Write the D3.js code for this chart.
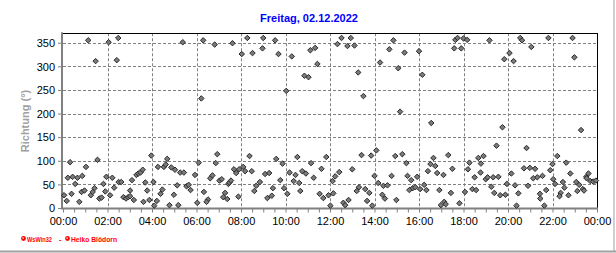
<!DOCTYPE html>
<html><head><meta charset="utf-8">
<script src="https://cdn.jsdelivr.net/npm/d3@7"></script>
<style>body{margin:0;background:#fff}svg{display:block}</style>
</head><body><svg id="c" width="616" height="253"></svg>
<script>
const title = "Freitag, 02.12.2022";
const yLabel = "Richtung (°)";
const footer = ["WsWin32", "-", "Heiko Blödorn"];
const yTicks = [0, 50, 100, 150, 200, 250, 300, 350];
const xTickMinutes = [0, 120, 240, 360, 480, 600, 720, 840, 960, 1080, 1200, 1320, 1440];
const xTickLabels = ["00:00","02:00","04:00","06:00","08:00","10:00","12:00","14:00","16:00","18:00","20:00","22:00","00:00"];

// time of day in minutes
const minutes = [
  68,88,123,149,145,323,19,93,62,238,281,256,272,277,292,302,316,326,356,366,13,26,39,52,33,117,133,150,157,186,198,203,209,215,222,244,109,3,10,23,44,50,58,75,80,85,98,104,114,127,138,163,170,176,181,191,181,217,227,233,246,253,263,268,287,299,308,311,333,339,344,362,
  378,409,457,497,482,511,538,540,572,581,617,667,680,686,651,662,373,602,416,412,503,575,592,632,669,710,397,403,422,428,461,467,475,486,491,509,545,556,611,627,645,655,697,676,622,637,586,446,449,453,531,521,516,566,596,380,391,387,432,437,443,473,551,563,605,640,692,702,716,729,721,727,
  740,751,767,776,786,796,810,855,880,891,904,921,909,960,969,993,1055,1058,1064,1074,1080,1090,805,831,845,896,915,926,999,991,1004,1039,1096,745,734,780,840,886,929,939,955,984,1009,1026,1050,1092,850,864,875,934,943,950,963,974,980,1015,798,815,792,826,861,868,899,1046,1084,756,761,770,820,834,1019,1028,1032,1069,
  1150,1233,1238,1263,1204,1190,1215,1309,1374,1379,1185,1397,1169,1250,1333,1120,1134,1127,1126,1357,1320,1243,1259,1273,1314,1209,1293,1279,1268,1368,1110,1140,1145,1160,1174,1322,1417,1411,1412,1422,1430,1437,1384,1392,1348,1327,1254,1219,1197,1155,1104,1114,1163,1179,1193,1228,1286,1303,1287,1352,1342,1339,1363,1387,1402,1405,1223,1298
];
// wind direction in degrees
const direction = [
  355,311,351,360,313,351,97,102,87,111,104,87,87,92,86,81,75,75,70,96,64,66,64,68,51,66,64,55,55,59,70,73,75,81,54,55,51,27,15,30,13,34,37,27,34,42,20,22,35,27,43,23,20,23,25,17,37,13,37,17,5,15,30,39,6,28,48,6,46,49,38,11,
  355,346,349,360,326,328,338,360,355,326,321,334,339,305,280,277,232,248,114,95,110,104,94,108,95,108,63,69,58,61,82,74,82,87,78,78,72,74,75,70,78,73,83,64,57,53,59,51,54,58,55,47,36,42,42,34,18,13,23,32,19,24,21,26,30,36,30,21,27,31,5,57,
  347,360,343,360,344,287,237,308,336,355,296,329,204,332,282,180,338,356,360,338,359,356,112,111,122,110,114,95,106,93,89,112,96,76,67,82,68,68,68,59,66,78,74,70,83,82,53,47,48,38,42,44,40,49,38,38,44,40,36,32,28,20,17,32,34,11,6,17,15,5,6,13,8,10,
  355,360,355,341,328,315,311,360,360,319,171,165,132,127,110,106,110,94,75,96,93,84,85,83,80,73,68,65,63,73,65,61,65,65,66,61,73,66,63,57,56,58,55,49,55,51,47,48,51,45,40,38,32,27,28,31,30,38,20,43,32,25,27,36,40,37,5,5
];

const svg = d3.select("#c");
const font = "'Liberation Sans', Arial, sans-serif";
const L = 63, R = 597, T = 33.25, B = 208;
const x = d3.scaleLinear().domain([0, 1440]).range([L, R]);
const y = d3.scaleLinear().domain([0, 370]).range([B, T]);

// frame lines of the image
svg.append("line").attr("x1", 0).attr("x2", 616).attr("y1", 251.5).attr("y2", 251.5)
  .attr("stroke", "#a0a0a0").attr("stroke-width", 2);
svg.append("line").attr("x1", 614).attr("x2", 614).attr("y1", 0).attr("y2", 252)
  .attr("stroke", "#a0a0a0").attr("stroke-width", 1);

// title
svg.append("text").attr("x", 309).attr("y", 22).attr("text-anchor", "middle")
  .attr("font-family", font).attr("font-weight", "bold").attr("font-size", 11)
  .attr("fill", "#0000ff").text(title);

// grid
const grid = svg.append("g").attr("stroke", "#808080").attr("stroke-dasharray", "3,2").attr("stroke-width", 1);
grid.selectAll(".h").data(yTicks.filter(d => d > 0)).enter().append("line")
  .attr("x1", L).attr("x2", R).attr("y1", d => Math.round(y(d)) + 0.5).attr("y2", d => Math.round(y(d)) + 0.5);
grid.selectAll(".v").data(xTickMinutes.slice(1, -1)).enter().append("line")
  .attr("y1", T).attr("y2", B).attr("x1", d => Math.round(x(d)) + 0.5).attr("x2", d => Math.round(x(d)) + 0.5);

// top & right borders
svg.append("line").attr("x1", L - 1).attr("x2", R + 1).attr("y1", 33.5).attr("y2", 33.5).attr("stroke", "#000");
svg.append("line").attr("x1", R + 0.5).attr("x2", R + 0.5).attr("y1", 33).attr("y2", B).attr("stroke", "#000");

// axes
const yAxis = d3.axisLeft(y).tickValues(yTicks).tickSize(4).tickPadding(3).tickFormat(d => d);
const gy = svg.append("g").attr("transform", `translate(${L - 1},0)`).call(yAxis);
gy.select(".domain").attr("stroke", "#808080").attr("stroke-width", 2).attr("d", `M0,${T - 1}V${B + 1}`);
gy.selectAll(".tick line").attr("stroke", "#808080");
gy.selectAll(".tick text").attr("font-family", font).attr("font-size", 11).attr("fill", "#000").attr("dy", "0.34em");

const minorTicks = d3.range(0, 1441, 30);
const xAxis = d3.axisBottom(x).tickValues(minorTicks).tickSize(4).tickFormat("");
const gx = svg.append("g").attr("transform", `translate(0,${B + 0.5})`).call(xAxis);
gx.select(".domain").attr("stroke", "#808080").attr("stroke-width", 2).attr("d", `M${L - 2},0H${R + 1}`);
gx.selectAll(".tick line").attr("stroke", "#808080");

const xLab = d3.axisBottom(x).tickValues(xTickMinutes).tickSize(0).tickPadding(0)
  .tickFormat((d, i) => xTickLabels[i]);
const gxl = svg.append("g").attr("transform", `translate(0,217)`).call(xLab);
gxl.select(".domain").remove();
gxl.selectAll(".tick text").attr("font-family", font).attr("font-size", 11).attr("fill", "#000").attr("dy", "0.71em");

// y label
svg.append("text").attr("transform", "translate(29,121) rotate(-90)").attr("text-anchor", "middle")
  .attr("font-family", font).attr("font-weight", "bold").attr("font-size", 11)
  .attr("fill", "#a0a0a0").text(yLabel);

// points
const diamond = { draw(ctx, size) { const r = Math.sqrt(size / 2); ctx.moveTo(0, -r); ctx.lineTo(r, 0); ctx.lineTo(0, r); ctx.lineTo(-r, 0); ctx.closePath(); } };
const sym = d3.symbol().type(diamond).size(15);
svg.append("g").selectAll("path").data(minutes.map((m, i) => [m, direction[i]])).enter().append("path")
  .attr("d", sym).attr("transform", d => `translate(${x(d[0])},${y(d[1])})`)
  .attr("fill", "#7a7a7a").attr("stroke", "#2a2a2a").attr("stroke-width", 1);

// footer
const f = svg.append("g").attr("font-family", font).attr("font-weight", "bold").attr("font-size", 7.5).attr("fill", "#ff0000");
[[23.5, 238.5], [67.5, 238.5]].forEach(c => {
  f.append("circle").attr("cx", c[0]).attr("cy", c[1]).attr("r", 2.4).attr("fill", "#ff0000");
  f.append("circle").attr("cx", c[0] - 0.4).attr("cy", c[1] - 0.4).attr("r", 0.8).attr("fill", "#fff");
});
f.append("text").attr("x", 27).attr("y", 241.5).attr("textLength", 25).attr("lengthAdjust", "spacingAndGlyphs").text(footer[0]);
f.append("text").attr("x", 59).attr("y", 241.5).text(footer[1]);
f.append("text").attr("x", 71).attr("y", 241.5).attr("textLength", 46).attr("lengthAdjust", "spacingAndGlyphs").text(footer[2]);
</script></body></html>
